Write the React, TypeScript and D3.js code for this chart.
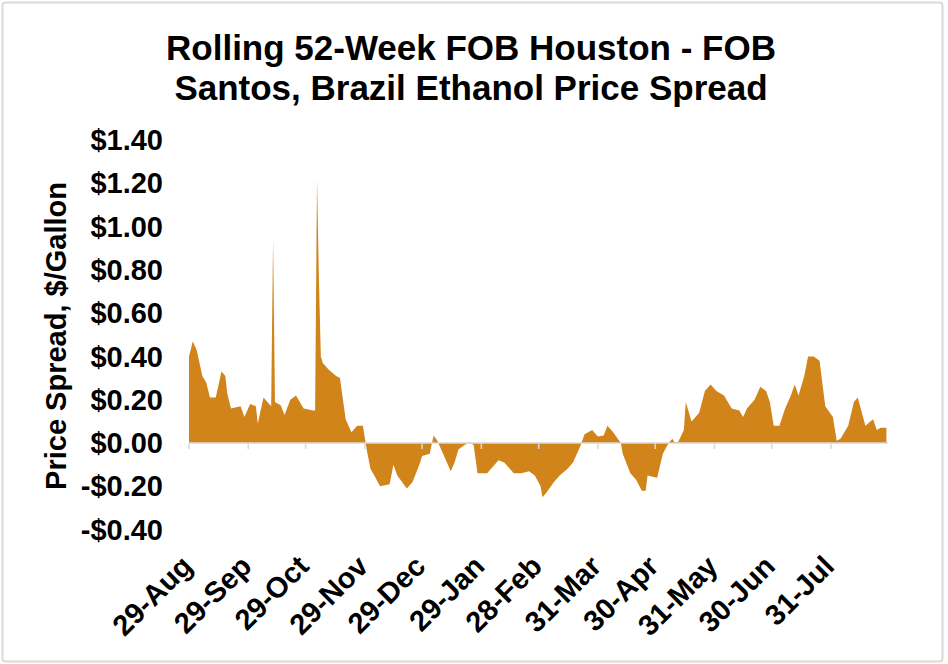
import React from "react";
import * as d3 from "d3";

const titleLines = ["Rolling 52-Week FOB Houston - FOB", "Santos, Brazil Ethanol Price Spread"];
const yAxisTitle = "Price Spread, $/Gallon";

const dates = [
  "2018-08-29","2018-08-31","2018-09-02","2018-09-05","2018-09-07","2018-09-09","2018-09-12","2018-09-15",
  "2018-09-17","2018-09-18","2018-09-20","2018-09-25","2018-09-27","2018-09-30","2018-10-03","2018-10-04",
  "2018-10-07","2018-10-09","2018-10-11","2018-10-12","2018-10-13","2018-10-16","2018-10-18","2018-10-21",
  "2018-10-24","2018-10-28","2018-11-02","2018-11-03","2018-11-04","2018-11-05","2018-11-06","2018-11-07",
  "2018-11-08","2018-11-10","2018-11-14","2018-11-16","2018-11-19","2018-11-22","2018-11-25","2018-11-28",
  "2018-11-30","2018-12-02","2018-12-04","2018-12-07","2018-12-12","2018-12-14","2018-12-16","2018-12-21",
  "2018-12-24","2018-12-28","2018-12-29","2019-01-02","2019-01-04","2019-01-06","2019-01-07","2019-01-10",
  "2019-01-13","2019-01-15","2019-01-17","2019-01-20","2019-01-23","2019-01-25","2019-01-27","2019-02-01",
  "2019-02-04","2019-02-07","2019-02-10","2019-02-15","2019-02-19","2019-02-23","2019-02-26","2019-03-01",
  "2019-03-02","2019-03-04","2019-03-08","2019-03-11","2019-03-15","2019-03-18","2019-03-22","2019-03-24",
  "2019-03-28","2019-03-31","2019-04-03","2019-04-05","2019-04-08","2019-04-12","2019-04-13","2019-04-17",
  "2019-04-20","2019-04-23","2019-04-25","2019-04-26","2019-05-01","2019-05-04","2019-05-07","2019-05-09",
  "2019-05-10","2019-05-12","2019-05-15","2019-05-16","2019-05-19","2019-05-23","2019-05-26","2019-05-29",
  "2019-06-01","2019-06-05","2019-06-09","2019-06-13","2019-06-15","2019-06-17","2019-06-21","2019-06-24",
  "2019-06-27","2019-06-29","2019-07-01","2019-07-04","2019-07-07","2019-07-10","2019-07-12","2019-07-14",
  "2019-07-17","2019-07-19","2019-07-22","2019-07-25","2019-07-28","2019-08-01","2019-08-03","2019-08-05",
  "2019-08-09","2019-08-12","2019-08-14","2019-08-18","2019-08-22","2019-08-24","2019-08-26","2019-08-29"
];

const spread = [
  0.40,0.47,0.43,0.31,0.28,0.21,0.21,0.33,
  0.31,0.23,0.16,0.17,0.12,0.18,0.17,0.09,
  0.21,0.19,0.17,0.94,0.19,0.175,0.13,0.20,
  0.22,0.16,0.15,0.15,1.22,0.75,0.40,0.37,
  0.36,0.34,0.31,0.30,0.11,0.05,0.08,0.08,
  -0.03,-0.12,-0.15,-0.20,-0.19,-0.10,-0.15,-0.21,
  -0.18,-0.09,-0.06,-0.05,0.035,0.01,-0.01,-0.07,
  -0.13,-0.09,-0.03,-0.01,0.005,-0.01,-0.14,-0.14,
  -0.11,-0.08,-0.09,-0.14,-0.14,-0.13,-0.15,-0.20,
  -0.25,-0.23,-0.18,-0.15,-0.12,-0.09,-0.01,0.04,
  0.06,0.03,0.035,0.08,0.05,0.00,-0.05,-0.14,
  -0.17,-0.22,-0.22,-0.15,-0.16,-0.05,0.00,0.02,
  0.005,0.005,0.06,0.19,0.10,0.14,0.24,0.27,
  0.24,0.22,0.16,0.15,0.12,0.16,0.20,0.26,
  0.24,0.19,0.08,0.08,0.16,0.22,0.27,0.22,
  0.31,0.40,0.40,0.38,0.17,0.12,0.01,0.02,
  0.08,0.19,0.21,0.08,0.11,0.06,0.07,0.07
];

const yTicks = [-0.4, -0.2, 0, 0.2, 0.4, 0.6, 0.8, 1.0, 1.2, 1.4];
const xTickDates = [
  "2018-08-29","2018-09-29","2018-10-29","2018-11-29","2018-12-29","2019-01-29",
  "2019-02-28","2019-03-31","2019-04-30","2019-05-31","2019-06-30","2019-07-31"
];

const parse = d3.timeParse("%Y-%m-%d");
const fmtTick = d3.timeFormat("%-d-%b");
const fmtY = (v: number) => (v < 0 ? "-$" : "$") + Math.abs(v).toFixed(2);

export default function App() {
  const W = 948, H = 664;
  const font = "'Liberation Sans', Arial, Helvetica, sans-serif";
  const data = dates.map((d, i) => ({ date: parse(d) as Date, v: spread[i] }));
  const ticks = xTickDates.map((d) => parse(d) as Date);

  const x = d3.scaleTime()
    .domain([parse("2018-08-29") as Date, parse("2019-07-31") as Date])
    .range([189, 831]);
  const y = d3.scaleLinear().domain([-0.4, 1.4]).range([529.6, 140]);

  const area = d3.area<{ date: Date; v: number }>()
    .x((d) => x(d.date))
    .y0(y(0))
    .y1((d) => y(d.v))
    .curve(d3.curveLinear);

  const lastX = x(data[data.length - 1].date);

  return (
    <svg width={W} height={H} style={{ position: "absolute", left: 0, top: 0, background: "#fff" }} fontFamily={font}>
      <rect x={2.5} y={2.5} width={940} height={659} rx={3} fill="#fff" stroke="#d9d9d9" strokeWidth={2} />
      {titleLines.map((t, i) => (
        <text key={i} x={471} y={60 + i * 40} textAnchor="middle" fontSize={35} fontWeight="bold" fill="#000">{t}</text>
      ))}
      <text transform={`translate(66,336) rotate(-90)`} textAnchor="middle" fontSize={29} fontWeight="bold" fill="#000">{yAxisTitle}</text>
      {yTicks.map((t) => (
        <text key={t} x={163} y={y(t)} dy="0.35em" textAnchor="end" fontSize={29} fontWeight="bold" fill="#000">{fmtY(t)}</text>
      ))}
      <path d={area(data) || ""} fill="#d1841a" />
      <line x1={189} x2={Math.max(lastX, 888)} y1={y(0)} y2={y(0)} stroke="#d9d9d9" strokeWidth={1.5} />
      {ticks.map((t, i) => (
        <line key={i} x1={x(t)} x2={x(t)} y1={y(0)} y2={y(0) + 6} stroke="#d9d9d9" strokeWidth={1.5} />
      ))}
      {ticks.map((t, i) => (
        <text key={i} transform={`translate(${x(t) + 5},568) rotate(-45)`} textAnchor="end" fontSize={29} fontWeight="bold" fill="#000">{fmtTick(t)}</text>
      ))}
    </svg>
  );
}
